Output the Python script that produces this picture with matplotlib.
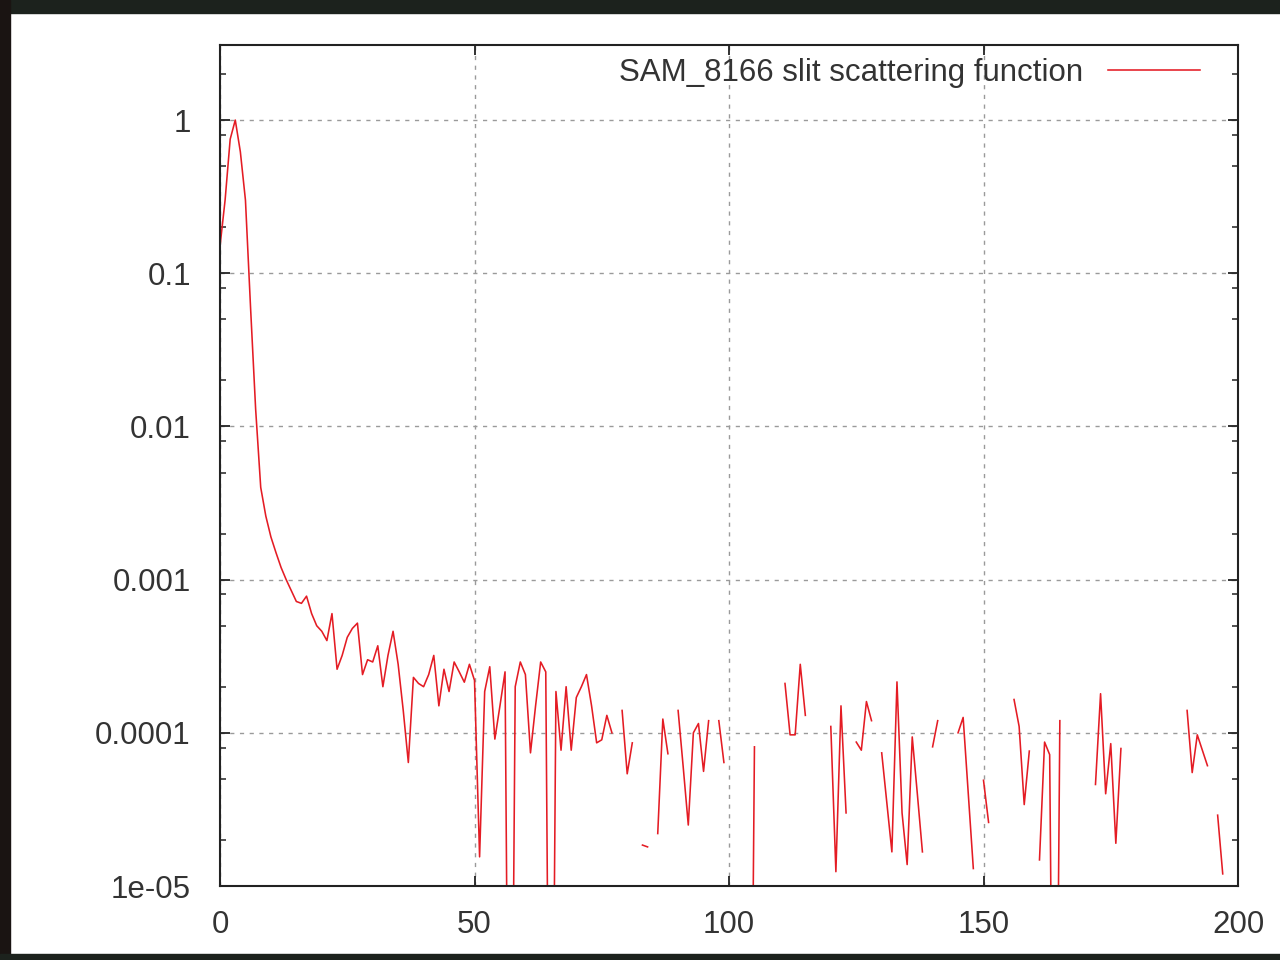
import numpy as np
import matplotlib
matplotlib.use("Agg")
import matplotlib.pyplot as plt
from matplotlib.patches import Rectangle
from matplotlib.ticker import LogLocator, FixedLocator, FixedFormatter, NullFormatter

N = None
# scattering function values at x = 0, 1, 2, ... (None = no positive value -> gap)
values = [
    0.15, 0.3, 0.75, 1.0, 0.62, 0.3, 0.06, 0.013, 0.004, 0.0026,          # 0-9
    0.0019, 0.0015, 0.0012, 0.001, 0.00085, 0.00072, 0.0007, 0.00078, 0.0006, 0.0005,  # 10-19
    0.00046, 0.0004, 0.0006, 0.00026, 0.00032, 0.00042, 0.00048, 0.00052, 0.00024, 0.0003,  # 20-29
    0.00029, 0.00037, 0.0002, 0.00032, 0.00046, 0.00028, 0.00014, 6.4e-5, 0.00023, 0.00021,  # 30-39
    0.0002, 0.00024, 0.00032, 0.00015, 0.00026, 0.000186, 0.00029, 0.00025, 0.000214, 0.00028,  # 40-49
    0.00022, 1.55e-5, 0.000186, 0.00027, 9.1e-5, 0.00015, 0.00025, 1e-8, 0.0002, 0.00029,  # 50-59
    0.00024, 7.4e-5, 0.00015, 0.00029, 0.00025, 1e-8, 0.000186, 7.7e-5, 0.0002, 7.7e-5,  # 60-69
    0.00017, 0.0002, 0.00024, 0.00015, 8.6e-5, 9.0e-5, 0.00013, 0.0001, N, 0.00014,  # 70-79
    5.4e-5, 8.6e-5, N, 1.85e-5, 1.8e-5, N, 2.2e-5, 0.000123, 7.3e-5, N,  # 80-89
    0.00014, 6e-5, 2.5e-5, 0.0001, 0.000115, 5.6e-5, 0.00012, N, 0.00012, 6.4e-5,  # 90-99
    N, N, N, N, 1e-8, 8.1e-5, N, N, N, N,  # 100-109
    N, 0.00021, 9.7e-5, 9.7e-5, 0.00028, 0.00013, N, N, N, N,  # 110-119
    0.00011, 1.24e-5, 0.00015, 3.0e-5, N, 8.7e-5, 7.7e-5, 0.00016, 0.00012, N,  # 120-129
    7.4e-5, 3.5e-5, 1.67e-5, 0.000215, 3e-5, 1.38e-5, 9.4e-5, 4e-5, 1.67e-5, N,  # 130-139
    8.1e-5, 0.00012, N, N, N, 0.0001, 0.000126, 4e-5, 1.3e-5, N,  # 140-149
    4.9e-5, 2.6e-5, N, N, N, N, 0.000165, 0.00011, 3.4e-5, 7.6e-5,  # 150-159
    N, 1.48e-5, 8.7e-5, 7.2e-5, 1e-8, 0.00012, N, N, N, N,  # 160-169
    N, N, 4.6e-5, 0.00018, 4.0e-5, 8.5e-5, 1.9e-5, 7.9e-5, N, N,  # 170-179
    N, N, N, N, N, N, N, N, N, N,  # 180-189
    0.00014, 5.5e-5, 9.7e-5, 7.7e-5, 6.1e-5, N, 2.9e-5, 1.2e-5,  # 190-197
]
series_label = "SAM_8166 slit scattering function"
x_ticks = [0, 50, 100, 150, 200]
x_tick_labels = ["0", "50", "100", "150", "200"]
y_ticks = [1e-5, 1e-4, 1e-3, 1e-2, 1e-1, 1]
y_tick_labels = ["1e-05", "0.0001", "0.001", "0.01", "0.1", "1"]

x = np.arange(len(values))
y = np.array([np.nan if v is None else v for v in values], dtype=float)

plt.rcParams['font.family'] = ['Liberation Sans', 'DejaVu Sans']

W, H = 1280, 960
fig = plt.figure(figsize=(W / 100, H / 100), dpi=100)
fig.patch.set_facecolor('white')

# dark photo frame around the screenshot
dark = '#1c221d'
fig.patches.append(Rectangle((0, 1 - 13 / H), 1, 13 / H, transform=fig.transFigure, color=dark, zorder=0))
fig.patches.append(Rectangle((0, 0), 10 / W, 1, transform=fig.transFigure, color='#1a1412', zorder=0))
fig.patches.append(Rectangle((0, 0), 1, 6 / H, transform=fig.transFigure, color=dark, zorder=0))

L, R, T, B = 220, 1238, 45, 886
ax = fig.add_axes([L / W, 1 - B / H, (R - L) / W, (B - T) / H])

line_color = '#e41c24'
ax.plot(x, y, color=line_color, lw=1.15, label=series_label)

ax.set_yscale('log')
ax.set_xlim(0, 200)
ax.set_ylim(1e-5, 3.09)

ax.xaxis.set_major_locator(FixedLocator(x_ticks))
ax.xaxis.set_major_formatter(FixedFormatter(x_tick_labels))
ax.yaxis.set_major_locator(FixedLocator(y_ticks))
ax.yaxis.set_major_formatter(FixedFormatter(y_tick_labels))
ax.yaxis.set_minor_locator(LogLocator(base=10, subs=[2, 5, 8], numticks=20))
ax.yaxis.set_minor_formatter(NullFormatter())
ax.xaxis.set_minor_locator(FixedLocator([]))

text_color = '#333333'
fs = 22.5
ax.tick_params(axis='both', which='major', direction='in', length=7, width=1.3,
               color='#222222', labelsize=fs, labelcolor=text_color,
               top=True, right=True)
ax.tick_params(axis='both', which='minor', direction='in', length=4.5, width=1.1,
               color='#222222', top=True, right=True)
ax.tick_params(axis='y', which='major', pad=21)
ax.tick_params(axis='x', which='major', pad=17)

for s in ax.spines.values():
    s.set_linewidth(1.5)
    s.set_color('#222222')

ax.grid(True, which='major', axis='both', color='#9a9a9a', lw=1.0, linestyle=(0, (3, 4)))

leg = ax.legend(loc='upper right', bbox_to_anchor=((1200 - L) / (R - L), (B - 58) / (B - T)),
                frameon=False, markerfirst=False, fontsize=fs, handlelength=2.95,
                handletextpad=0.8, borderpad=0, borderaxespad=0)
for t in leg.get_texts():
    t.set_color(text_color)

fig.savefig('out.png', dpi=100, facecolor=fig.get_facecolor())
